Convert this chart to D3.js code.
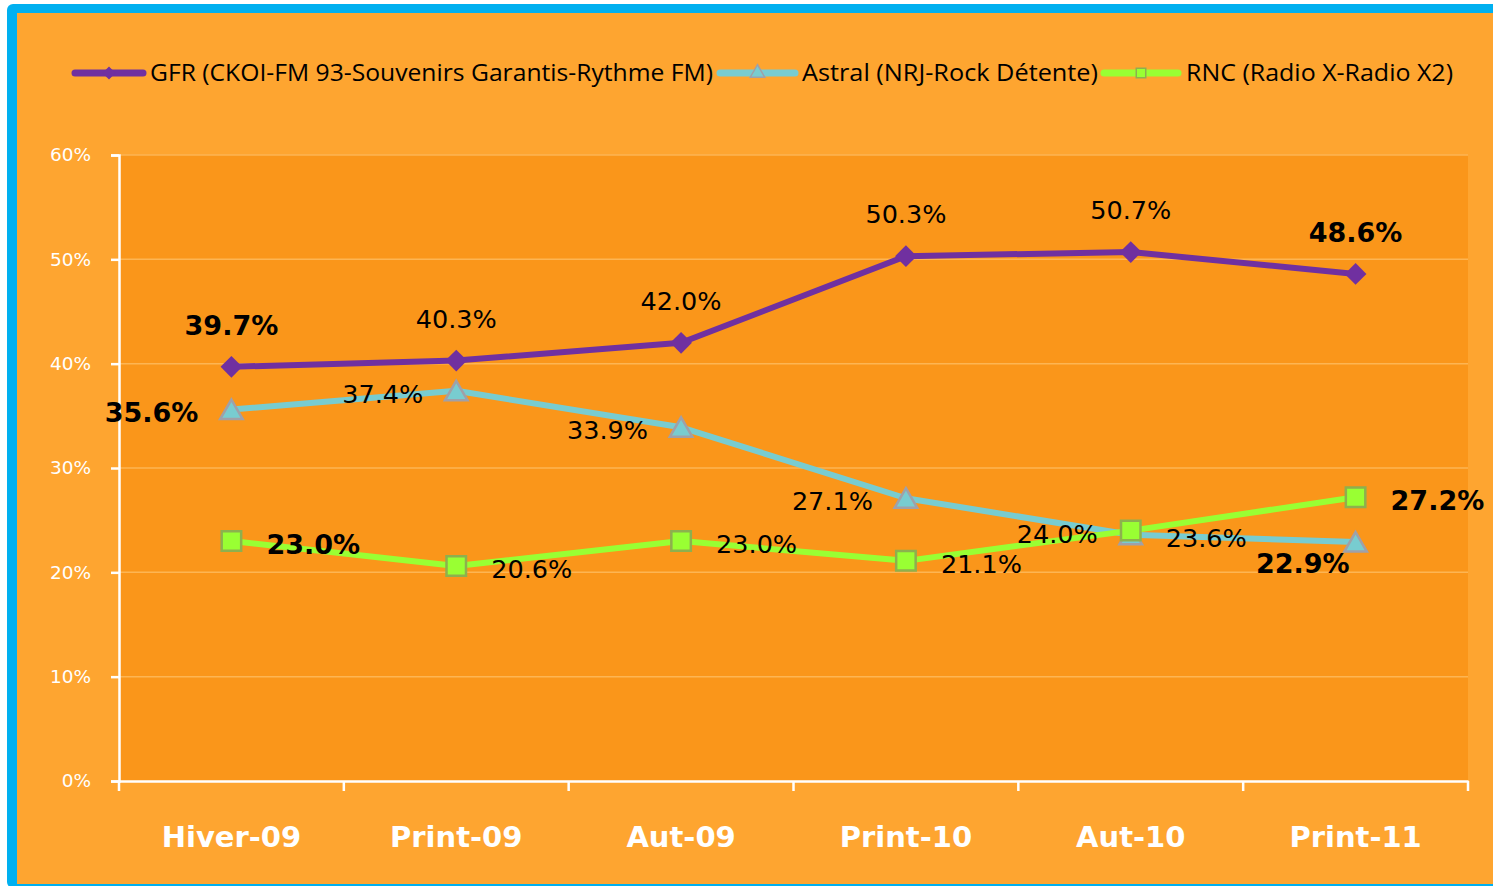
<!DOCTYPE html>
<html>
<head>
<meta charset="utf-8">
<script src="https://cdn.jsdelivr.net/npm/d3@7"></script>
<style>
  html, body { margin: 0; padding: 0; background: #ffffff; }
  svg { display: block; }
</style>
</head>
<body>
<div id="chart"></div>
<script>
const categories = ['Hiver-09', 'Print-09', 'Aut-09', 'Print-10', 'Aut-10', 'Print-11'];
const yTicks = [0, 0.1, 0.2, 0.3, 0.4, 0.5, 0.6];

const gfrName = 'GFR (CKOI-FM 93-Souvenirs Garantis-Rythme FM)';
const gfrValues = [0.397, 0.403, 0.420, 0.503, 0.507, 0.486];

const astralName = 'Astral (NRJ-Rock Détente)';
const astralValues = [0.356, 0.374, 0.339, 0.271, 0.236, 0.229];

const rncName = 'RNC (Radio X-Radio X2)';
const rncValues = [0.230, 0.206, 0.230, 0.211, 0.240, 0.272];

// where each data label sits relative to its point
const gfrPlace = ['above', 'above', 'above', 'above', 'above', 'above'];
const astralPlace = ['left', 'left', 'left', 'left', 'right', 'belowLeft'];
const rncPlace = ['right', 'right', 'right', 'right', 'left', 'right'];

const width = 1493;
const height = 886;
const plot = {left: 119, right: 1468, top: 155, bottom: 781};

const outerFill = '#FEA530';
const plotFill = '#FA961A';
const gridColor = '#FDB553';
const borderBlue = '#00B0F0';
const labelFont = '"DejaVu Sans", Verdana, sans-serif';

const series = [
  {name: gfrName, values: gfrValues, place: gfrPlace, color: '#7030A0', stroke: '#7030A0', marker: 'diamond'},
  {name: astralName, values: astralValues, place: astralPlace, color: '#78CCD0', stroke: '#A0A0A8', marker: 'triangle'},
  {name: rncName, values: rncValues, place: rncPlace, color: '#99FF33', stroke: '#8DB04E', marker: 'square'}
];

const svg = d3.select('#chart')
  .append('svg')
  .attr('width', width)
  .attr('height', height);

// frame
svg.append('rect')
  .attr('x', 7).attr('y', 4)
  .attr('width', width + 20).attr('height', height - 2)
  .attr('rx', 6)
  .attr('fill', borderBlue);

svg.append('rect')
  .attr('x', 17).attr('y', 13)
  .attr('width', width).attr('height', height - 15)
  .attr('fill', outerFill);

svg.append('rect')
  .attr('x', plot.left).attr('y', plot.top)
  .attr('width', plot.right - plot.left).attr('height', plot.bottom - plot.top)
  .attr('fill', plotFill);

const xScale = d3.scaleBand()
  .domain(categories)
  .range([plot.left, plot.right]);

const yScale = d3.scaleLinear()
  .domain([0, 0.6])
  .range([plot.bottom, plot.top]);

const xMid = c => xScale(c) + xScale.bandwidth() / 2;

// grid
svg.append('g')
  .selectAll('line')
  .data(yTicks.slice(1))
  .join('line')
  .attr('x1', plot.left).attr('x2', plot.right)
  .attr('y1', d => yScale(d)).attr('y2', d => yScale(d))
  .attr('stroke', gridColor)
  .attr('stroke-width', 1.5);

// y axis
const yAxis = svg.append('g')
  .attr('transform', `translate(${plot.left},0)`)
  .call(d3.axisLeft(yScale).tickValues(yTicks).tickFormat(d3.format('.0%')).tickSize(8).tickPadding(20));

yAxis.select('.domain').attr('stroke', '#ffffff').attr('stroke-width', 2.5);
yAxis.selectAll('.tick line').attr('stroke', '#ffffff').attr('stroke-width', 2.5);
yAxis.selectAll('.tick text')
  .attr('fill', '#ffffff')
  .style('font-family', labelFont)
  .style('font-size', '18.5px');

// x axis
const xAxis = svg.append('g')
  .attr('transform', `translate(0,${plot.bottom})`)
  .call(d3.axisBottom(xScale).tickSize(0).tickPadding(45));

xAxis.select('.domain').attr('stroke', '#ffffff').attr('stroke-width', 2.5);
xAxis.selectAll('.tick text')
  .attr('fill', '#ffffff')
  .style('font-family', labelFont)
  .style('font-weight', 'bold')
  .style('font-size', '29px');

const boundaries = categories.map(c => xScale(c)).concat([plot.right]);
xAxis.selectAll('.boundary')
  .data(boundaries)
  .join('line')
  .attr('class', 'boundary')
  .attr('x1', d => d).attr('x2', d => d)
  .attr('y1', 0).attr('y2', 10)
  .attr('stroke', '#ffffff')
  .attr('stroke-width', 2.5);

function markerPath(type, size) {
  const sym = type === 'diamond' ? d3.symbolDiamond2 : type === 'triangle' ? d3.symbolTriangle : d3.symbolSquare;
  return d3.symbol().type(sym).size(size)();
}

const markerSize = {diamond: 300, triangle: 220, square: 380};

const line = d3.line()
  .x((d, i) => xMid(categories[i]))
  .y(d => yScale(d));

series.forEach(s => {
  svg.append('path')
    .datum(s.values)
    .attr('fill', 'none')
    .attr('stroke', s.color)
    .attr('stroke-width', 6)
    .attr('stroke-linejoin', 'round')
    .attr('d', line);
});

series.forEach(s => {
  svg.append('g')
    .selectAll('path')
    .data(s.values)
    .join('path')
    .attr('transform', (d, i) => {
      const dy = s.marker === 'triangle' ? 3 : 0;
      return `translate(${xMid(categories[i])},${yScale(d) + dy})`;
    })
    .attr('d', markerPath(s.marker, markerSize[s.marker]))
    .attr('fill', s.color)
    .attr('stroke', s.marker === 'diamond' ? 'none' : s.stroke)
    .attr('stroke-width', 2.5);
});

// data labels
const fmt = d3.format('.1%');
series.forEach(s => {
  svg.append('g')
    .selectAll('text')
    .data(s.values)
    .join('text')
    .each(function (d, i) {
      const x = xMid(categories[i]);
      const y = yScale(d);
      const edge = i === 0 || i === s.values.length - 1;
      const place = s.place[i];
      let tx = x, ty = y, anchor = 'middle';
      if (place === 'above') { ty = y - 42; }
      if (place === 'left') { tx = x - 33; ty = y + 3; anchor = 'end'; }
      if (place === 'right') { tx = x + 35; ty = y + 3; anchor = 'start'; }
      if (place === 'belowLeft') { tx = x - 6; ty = y + 21; anchor = 'end'; }
      d3.select(this)
        .attr('x', tx)
        .attr('y', ty)
        .attr('dy', '0.36em')
        .attr('text-anchor', anchor)
        .attr('fill', '#000000')
        .style('font-family', labelFont)
        .style('font-size', edge ? '27px' : '25.5px')
        .style('font-weight', edge ? 'bold' : 'normal')
        .text(fmt(d));
    });
});

// legend
const legendY = 73;
const legendItems = [
  {s: series[0], x0: 75, x1: 143, tx: 150, tw: 563},
  {s: series[1], x0: 720, x1: 795, tx: 802, tw: 296},
  {s: series[2], x0: 1104, x1: 1178, tx: 1186, tw: 267}
];

const legend = svg.append('g');
legendItems.forEach(item => {
  const g = legend.append('g');
  g.append('line')
    .attr('x1', item.x0).attr('x2', item.x1)
    .attr('y1', legendY).attr('y2', legendY)
    .attr('stroke', item.s.color)
    .attr('stroke-width', 7)
    .attr('stroke-linecap', 'round');
  g.append('path')
    .attr('transform', `translate(${(item.x0 + item.x1) / 2},${legendY})`)
    .attr('d', markerPath(item.s.marker, item.s.marker === 'diamond' ? 110 : 90))
    .attr('fill', item.s.color)
    .attr('stroke', item.s.marker === 'diamond' ? 'none' : item.s.stroke)
    .attr('stroke-width', 1.5);
  g.append('text')
    .attr('x', item.tx)
    .attr('y', legendY)
    .attr('dy', '0.35em')
    .attr('textLength', item.tw)
    .attr('lengthAdjust', 'spacingAndGlyphs')
    .attr('fill', '#000000')
    .style('font-family', '"Liberation Sans Narrow", "Open Sans", sans-serif')
    .style('font-size', '23px')
    .text(item.s.name);
});
</script>
</body>
</html>
